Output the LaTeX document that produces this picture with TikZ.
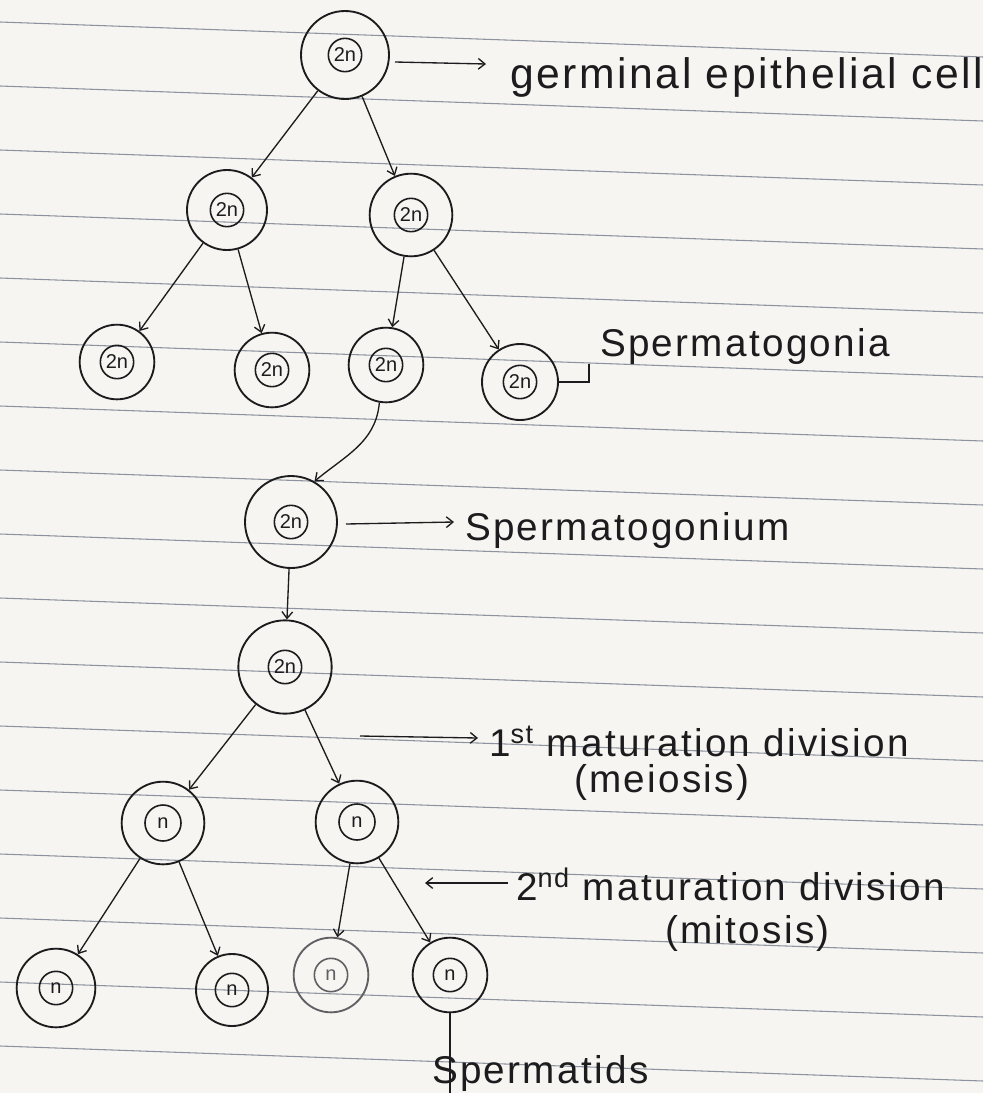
\documentclass[tikz,border=0pt]{standalone}
\usepackage{fontspec}
\setmainfont{Liberation Sans}
\newfontfamily\handfont[LetterSpace=6]{Liberation Sans}
\usetikzlibrary{arrows.meta}
\definecolor{ink}{RGB}{28,28,30}
\definecolor{faint}{RGB}{95,95,100}
\definecolor{ruling}{RGB}{140,146,158}
\definecolor{paper}{RGB}{246,245,241}
\tikzset{
  cell/.style={circle,draw=ink,line width=1.4pt,inner sep=0pt,minimum size=#1},
  nucleus/.style={circle,draw=ink,line width=1.2pt,inner sep=1.5pt,minimum size=25pt,text=ink,font=\fontsize{15}{17}\selectfont},
  link/.style={draw=ink,line width=1pt,-{Straight Barb[length=5pt,width=8pt]}},
  bracket/.style={draw=ink,line width=1pt},
  note/.style={inner sep=0pt,outer sep=0pt,anchor=base west,text=ink,font=\handfont\fontsize{29}{32}\selectfont},
  rule/.style={draw=ruling,line width=0.8pt}
}
\begin{document}
\begin{tikzpicture}[x=.75pt,y=-.75pt]
\path[use as bounding box,fill=paper] (0,0) rectangle (983,1093);
\clip (0,0) rectangle (983,1093);
% notebook ruling
\foreach \k in {0,...,16}
  \draw[rule] (0,22+64*\k) -- (983,57+64*\k);
% germinal epithelial cell
\node[cell=66pt] (top) at (345,55) {};
\node[nucleus] (topn) at (top) {2n};
% first mitotic divisions
\node[cell=60pt] (gA) at (227,210) {};
\node[nucleus] (gAn) at (gA) {2n};
\node[cell=62pt] (gB) at (411,215) {};
\node[nucleus] (gBn) at (gB) {2n};
% spermatogonia
\node[cell=56pt] (sgA) at (117,362) {};
\node[nucleus] (sgAn) at (sgA) {2n};
\node[cell=56pt] (sgB) at (272,370) {};
\node[nucleus] (sgBn) at (sgB) {2n};
\node[cell=56pt] (sgC) at (386,365) {};
\node[nucleus] (sgCn) at (sgC) {2n};
\node[cell=57pt] (sgD) at (520,382) {};
\node[nucleus] (sgDn) at (sgD) {2n};
% spermatogonium and primary spermatocyte
\node[cell=69pt] (sgm) at (291,522) {};
\node[nucleus] (sgmn) at (sgm) {2n};
\node[cell=70pt] (prim) at (285,667) {};
\node[nucleus] (primn) at (prim) {2n};
% secondary spermatocytes
\node[cell=62pt] (secA) at (163,823) {};
\node[nucleus,minimum size=27pt] (secAn) at (secA) {n};
\node[cell=62pt] (secB) at (357,822) {};
\node[nucleus,minimum size=27pt] (secBn) at (secB) {n};
% spermatids
\node[cell=59pt] (tidA) at (56,988) {};
\node[nucleus] (tidAn) at (tidA) {n};
\node[cell=54pt] (tidB) at (232,990) {};
\node[nucleus] (tidBn) at (tidB) {n};
\node[cell=56pt,draw=faint] (tidC) at (331,975) {};
\node[nucleus,draw=faint,text=faint] (tidCn) at (tidC) {n};
\node[cell=56pt] (tidD) at (450,975) {};
\node[nucleus] (tidDn) at (tidD) {n};
% labels
\node[note,font=\handfont\fontsize{32}{36}\selectfont] (germ) at (510,88) {germinal epithelial cell};
\node[note] (sgs) at (600,356) {Spermatogonia};
\node[note] (sgl) at (465,540) {Spermatogonium};
\node[note] (first) at (489,756) {1\textsuperscript{st} maturation division};
\node[note] (meio) at (574,792) {(meiosis)};
\node[note] (second) at (516,900) {2\textsuperscript{nd} maturation division};
\node[note] (mito) at (665,943) {(mitosis)};
\node[note] (tids) at (432,1083) {Spermatids};
\coordinate (germtail) at (395,62);
\coordinate (germtip) at (486,64);
\coordinate (sgltail) at (346,524);
\coordinate (sgltip) at (454,522);
\coordinate (firsttail) at (360,736);
\coordinate (firsttip) at (478,738);
\coordinate (secondtail) at (508,883);
\coordinate (secondtip) at (425,883);
\coordinate (tidfoot) at (450,1093);
% divisions
\draw[link] (top) -- (gA);
\draw[link] (top) -- (gB);
\draw[link] (gA) -- (sgA);
\draw[link] (gA) -- (sgB);
\draw[link] (gB) -- (sgC);
\draw[link] (gB) -- (sgD);
\draw[link] (sgC.-100) to[out=-95,in=40] (sgm.60);
\draw[link] (sgm) -- (prim);
\draw[link] (prim) -- (secA);
\draw[link] (prim) -- (secB);
\draw[link] (secA) -- (tidA);
\draw[link] (secA) -- (tidB);
\draw[link] (secB) -- (tidC);
\draw[link] (secB) -- (tidD);
% pointers to labels
\draw[link] (germtail) -- (germtip);
\draw[link] (sgltail) -- (sgltip);
\draw[link] (firsttail) -- (firsttip);
\draw[link] (secondtail) -- (secondtip);
\draw[bracket] (sgD.east) -- ++(30,0) -- ++(0,-18);
\draw[bracket] (tidD.south) -- (tidfoot);
\end{tikzpicture}
\end{document}
